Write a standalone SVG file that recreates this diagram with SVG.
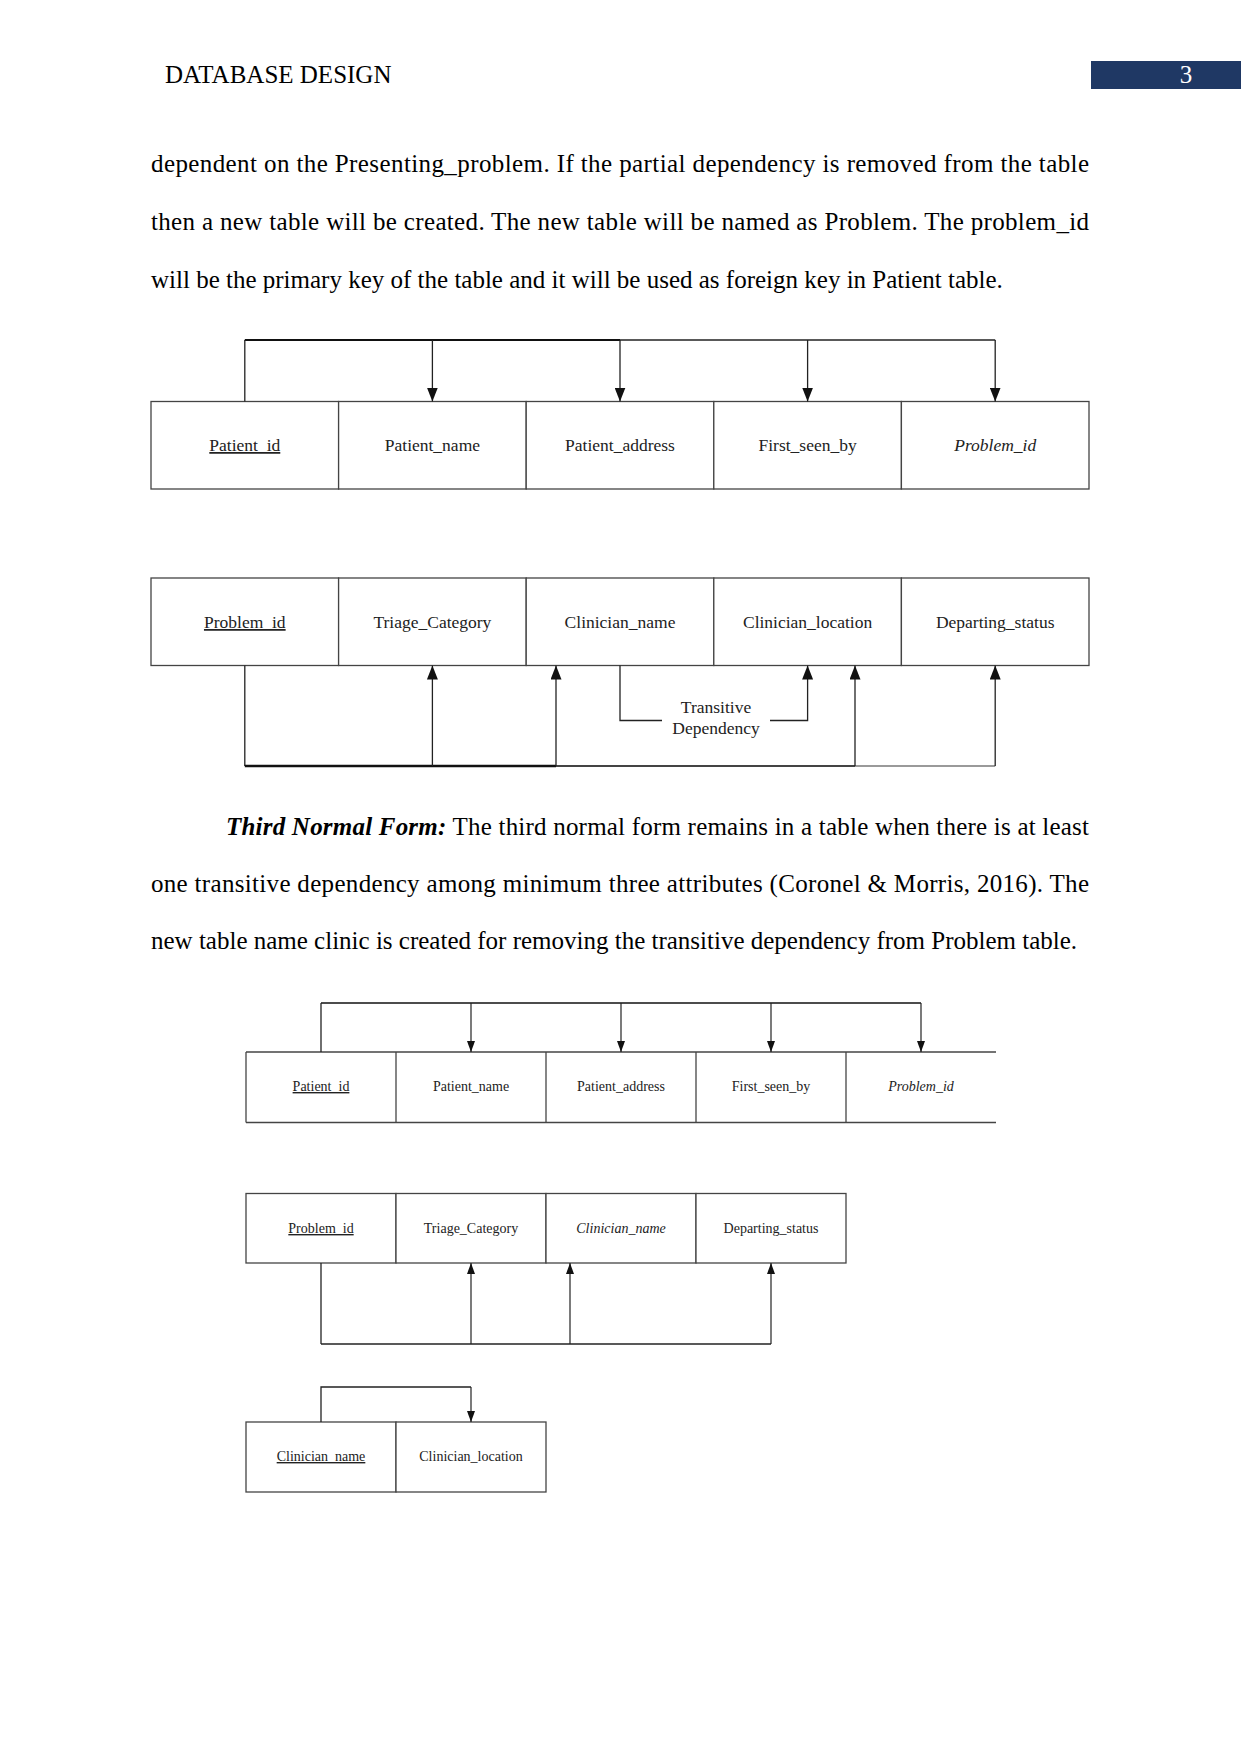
<svg xmlns="http://www.w3.org/2000/svg" width="1241" height="1754" viewBox="0 0 1241 1754">
<style>
.body{font-family:"Liberation Serif","Times New Roman",serif;font-size:25px;fill:#000}
.cell{fill:#fff;stroke:#444;stroke-width:1.3}
.bl{stroke:#444;stroke-width:1.3;fill:none}
.lt{font-family:"Liberation Serif","Times New Roman",serif;font-size:17.5px;fill:#222;text-anchor:middle}
.st{font-family:"Liberation Serif","Times New Roman",serif;font-size:14px;fill:#222;text-anchor:middle}
.u{text-decoration:underline}
.i{font-style:italic}
.ln{stroke:#222;stroke-width:1.3;fill:none}
.la{stroke:#222;stroke-width:1.3;fill:none;marker-end:url(#ah)}
.sa{stroke:#222;stroke-width:1.2;fill:none;marker-end:url(#sh)}
</style>
<defs>
<marker id="ah" viewBox="0 0 14 11" markerWidth="14" markerHeight="11" refX="14" refY="5.5" orient="auto" markerUnits="userSpaceOnUse"><path d="M0,0 L14,5.5 L0,11 z" fill="#111"/></marker>
<marker id="sh" viewBox="0 0 11 8" markerWidth="11" markerHeight="8" refX="11" refY="4" orient="auto" markerUnits="userSpaceOnUse"><path d="M0,0 L11,4 L0,8 z" fill="#111"/></marker>
</defs>
<rect width="1241" height="1754" fill="#fff"/>

<g id="header">
<text class="body" x="165" y="83">DATABASE DESIGN</text>
<rect x="1091" y="61" width="150" height="28" fill="#1f3864"/>
<text class="body" x="1186" y="83" text-anchor="middle" fill="#fff" style="fill:#fff">3</text>
</g>

<g id="para1">
<text class="body" x="151" y="172" textLength="938" lengthAdjust="spacing">dependent on the Presenting_problem. If the partial dependency is removed from the table</text>
<text class="body" x="151" y="230" textLength="938" lengthAdjust="spacing">then a new table will be created. The new table will be named as Problem. The problem_id</text>
<text class="body" x="151" y="288">will be the primary key of the table and it will be used as foreign key in Patient table.</text>
</g>

<!-- Diagram 1: Patient table -->
<g id="patient1">
<rect class="cell" x="151" y="401.5" width="187.6" height="87.5"/>
<rect class="cell" x="338.6" y="401.5" width="187.6" height="87.5"/>
<rect class="cell" x="526.2" y="401.5" width="187.6" height="87.5"/>
<rect class="cell" x="713.8" y="401.5" width="187.6" height="87.5"/>
<rect class="cell" x="901.4" y="401.5" width="187.6" height="87.5"/>
<text class="lt u" x="244.8" y="451">Patient_id</text>
<text class="lt" x="432.4" y="451">Patient_name</text>
<text class="lt" x="620" y="451">Patient_address</text>
<text class="lt" x="807.6" y="451">First_seen_by</text>
<text class="lt i" x="995.2" y="451">Problem_id</text>
</g>

<!-- Diagram 2: Problem table -->
<g id="problem1">
<rect class="cell" x="151" y="578" width="187.6" height="87.5"/>
<rect class="cell" x="338.6" y="578" width="187.6" height="87.5"/>
<rect class="cell" x="526.2" y="578" width="187.6" height="87.5"/>
<rect class="cell" x="713.8" y="578" width="187.6" height="87.5"/>
<rect class="cell" x="901.4" y="578" width="187.6" height="87.5"/>
<text class="lt u" x="244.8" y="628">Problem_id</text>
<text class="lt" x="432.4" y="628">Triage_Category</text>
<text class="lt" x="620" y="628">Clinician_name</text>
<text class="lt" x="807.6" y="628">Clinician_location</text>
<text class="lt" x="995.2" y="628">Departing_status</text>
</g>

<g id="transitive-label">
<text class="lt" x="716" y="713">Transitive</text>
<text class="lt" x="716" y="734">Dependency</text>
</g>

<g id="para2">
<text class="body" x="226" y="835" textLength="863" lengthAdjust="spacing"><tspan font-weight="bold" font-style="italic">Third Normal Form:</tspan> The third normal form remains in a table when there is at least</text>
<text class="body" x="151" y="892" textLength="938" lengthAdjust="spacing">one transitive dependency among minimum three attributes (Coronel &amp; Morris, 2016). The</text>
<text class="body" x="151" y="949">new table name clinic is created for removing the transitive dependency from Problem table.</text>
</g>

<!-- Diagram 3: Patient table 3NF -->
<g id="patient2">
<line class="bl" x1="246" y1="1052" x2="996" y2="1052"/>
<line class="bl" x1="246" y1="1122.5" x2="996" y2="1122.5"/>
<line class="bl" x1="246" y1="1052" x2="246" y2="1122.5"/>
<line class="bl" x1="396" y1="1052" x2="396" y2="1122.5"/>
<line class="bl" x1="546" y1="1052" x2="546" y2="1122.5"/>
<line class="bl" x1="696" y1="1052" x2="696" y2="1122.5"/>
<line class="bl" x1="846" y1="1052" x2="846" y2="1122.5"/>
<text class="st u" x="321" y="1091">Patient_id</text>
<text class="st" x="471" y="1091">Patient_name</text>
<text class="st" x="621" y="1091">Patient_address</text>
<text class="st" x="771" y="1091">First_seen_by</text>
<text class="st i" x="921" y="1091">Problem_id</text>
</g>

<!-- Diagram 4: Problem table 3NF -->
<g id="problem2">
<rect class="cell" x="246" y="1193.5" width="150" height="69.5"/>
<rect class="cell" x="396" y="1193.5" width="150" height="69.5"/>
<rect class="cell" x="546" y="1193.5" width="150" height="69.5"/>
<rect class="cell" x="696" y="1193.5" width="150" height="69.5"/>
<text class="st u" x="321" y="1233">Problem_id</text>
<text class="st" x="471" y="1233">Triage_Category</text>
<text class="st i" x="621" y="1233">Clinician_name</text>
<text class="st" x="771" y="1233">Departing_status</text>
</g>

<!-- Diagram 5: Clinic table -->
<g id="clinic">
<rect class="cell" x="246" y="1422" width="150" height="70"/>
<rect class="cell" x="396" y="1422" width="150" height="70"/>
<text class="st u" x="321" y="1461">Clinician_name</text>
<text class="st" x="471" y="1461">Clinician_location</text>
</g>

<g id="connectors">
<!-- diagram 1 -->
<line x1="244.8" y1="340" x2="620" y2="340" stroke="#111" stroke-width="2"/>
<line class="ln" x1="620" y1="340" x2="995.2" y2="340"/>
<line class="ln" x1="244.8" y1="340" x2="244.8" y2="401.5"/>
<line class="la" x1="432.4" y1="340" x2="432.4" y2="401.5"/>
<line class="la" x1="620" y1="340" x2="620" y2="401.5"/>
<line class="la" x1="807.6" y1="340" x2="807.6" y2="401.5"/>
<line class="la" x1="995.2" y1="340" x2="995.2" y2="401.5"/>
<!-- diagram 2 -->
<line class="ln" x1="244.8" y1="665.5" x2="244.8" y2="766"/>
<line x1="244.8" y1="766" x2="556" y2="766" stroke="#111" stroke-width="2.5"/>
<line x1="556" y1="766" x2="855" y2="766" stroke="#444" stroke-width="2"/>
<line x1="855" y1="766" x2="995.2" y2="766" stroke="#9a9a9a" stroke-width="2"/>
<line class="la" x1="432.4" y1="766" x2="432.4" y2="665.5"/>
<line class="la" x1="556" y1="766" x2="556" y2="665.5"/>
<line class="la" x1="855" y1="766" x2="855" y2="665.5"/>
<line class="la" x1="995.2" y1="766" x2="995.2" y2="665.5"/>
<polyline class="ln" points="620,665.5 620,720.5 662,720.5"/>
<polyline class="la" points="770,720.5 807.6,720.5 807.6,665.5"/>
<!-- diagram 3 -->
<line x1="321" y1="1003" x2="921" y2="1003" stroke="#111" stroke-width="1.6"/>
<line class="ln" x1="321" y1="1003" x2="321" y2="1052"/>
<line class="sa" x1="471" y1="1003" x2="471" y2="1052"/>
<line class="sa" x1="621" y1="1003" x2="621" y2="1052"/>
<line class="sa" x1="771" y1="1003" x2="771" y2="1052"/>
<line class="sa" x1="921" y1="1003" x2="921" y2="1052"/>
<!-- diagram 4 -->
<line class="ln" x1="321" y1="1263" x2="321" y2="1344"/>
<line class="ln" x1="321" y1="1344" x2="771" y2="1344"/>
<line class="sa" x1="471" y1="1344" x2="471" y2="1263"/>
<line class="sa" x1="570" y1="1344" x2="570" y2="1263"/>
<line class="sa" x1="771" y1="1344" x2="771" y2="1263"/>
<!-- diagram 5 -->
<polyline class="ln" points="321,1422 321,1387 471,1387"/>
<line class="sa" x1="471" y1="1387" x2="471" y2="1422"/>
</g>
</svg>
